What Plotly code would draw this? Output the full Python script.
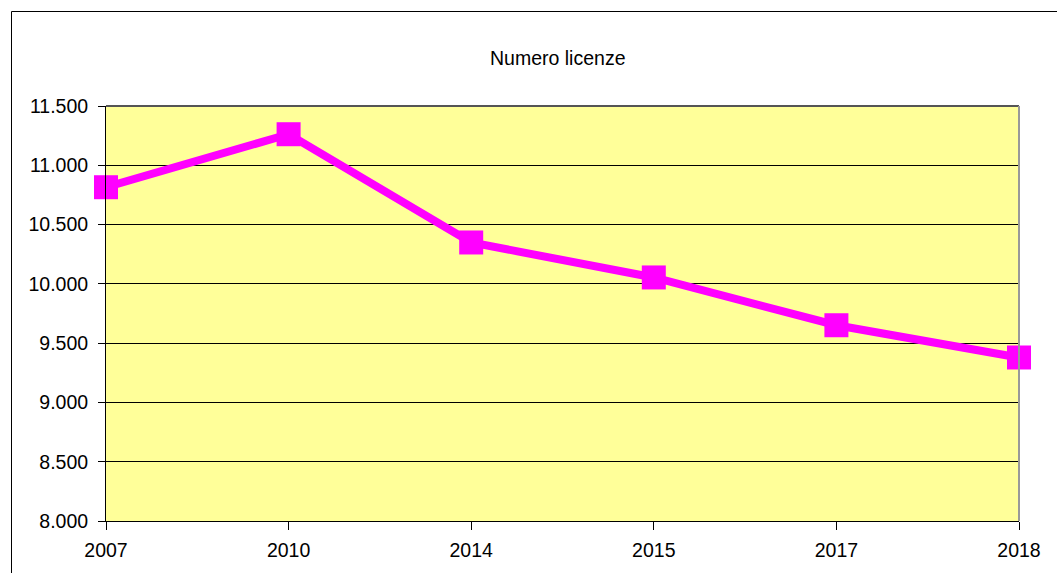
import plotly.graph_objects as go

years = ["2007", "2010", "2014", "2015", "2017", "2018"]
licenze = [10815, 11262, 10349, 10054, 9651, 9379]

fig = go.Figure()
fig.add_trace(go.Scatter(
    x=years, y=licenze, mode="lines+markers",
    line=dict(color="#FF00FF", width=8),
    marker=dict(symbol="square", size=24, color="#FF00FF",
                line=dict(width=0)),
    cliponaxis=False, showlegend=False,
))

fig.update_layout(
    width=1057, height=573,
    margin=dict(l=106, r=38, t=106, b=52),
    paper_bgcolor="white", plot_bgcolor="#FFFF99",
    separators=",.",
    font=dict(family="Liberation Sans, Arial", size=19.5, color="black"),
    xaxis=dict(type="category", range=[0, 5], showgrid=False, zeroline=False,
               ticks="outside", ticklen=8, tickcolor="black", tickwidth=1,
               ticklabelstandoff=4,
               showline=True, linecolor="black", linewidth=1, mirror=False),
    yaxis=dict(range=[8000, 11500], dtick=500, tickformat=",d",
               showgrid=True, gridcolor="black", gridwidth=1, zeroline=False,
               ticks="outside", ticklen=7, tickcolor="black",
               ticklabelstandoff=6,
               showline=True, linecolor="black", linewidth=1),
    annotations=[dict(text="Numero licenze", xref="paper", yref="paper",
                      x=0.494, y=1.1157, xanchor="center", yanchor="middle",
                      showarrow=False, font=dict(size=19.5, color="black"))],
    shapes=[
        dict(type="line", xref="paper", yref="paper", x0=0, x1=1, y0=1, y1=1,
             line=dict(color="#555555", width=2)),
        dict(type="line", xref="paper", yref="paper", x0=1, x1=1, y0=0, y1=1,
             line=dict(color="#999999", width=2)),
        dict(type="rect", xref="paper", yref="paper", x0=-0.1035, x1=1.3, y0=-0.3, y1=1.2277,
             line=dict(color="black", width=1), fillcolor="rgba(0,0,0,0)", layer="below"),
    ],
)

fig.write_html("out.html", config={"displayModeBar": False},
               post_script="document.body.style.margin='0';")
